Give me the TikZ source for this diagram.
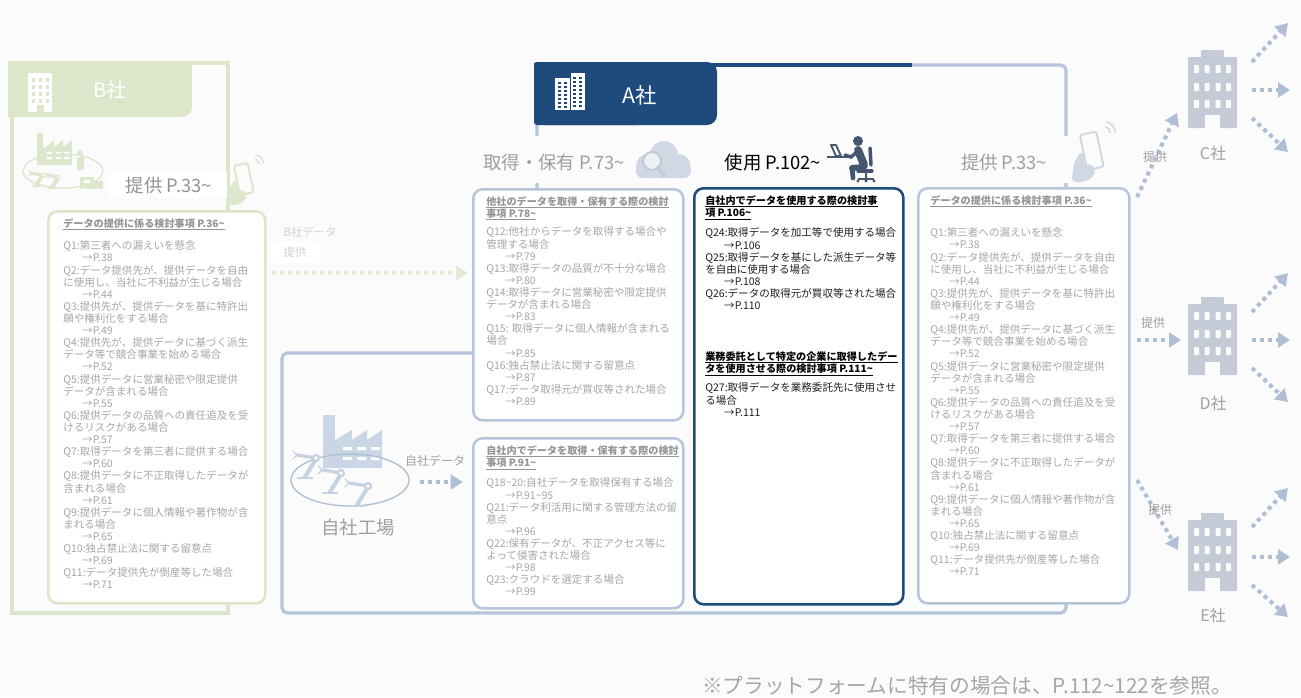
\documentclass[tikz,border=0pt]{standalone}
\usepackage{fontspec}
\setmainfont{Noto Sans CJK JP}
\usetikzlibrary{arrows.meta,shapes.geometric}

\definecolor{pagebg}{HTML}{FBFBFB}
\definecolor{abl}{HTML}{1F4A7C}
\definecolor{lbl}{HTML}{B6C5DA}
\definecolor{gfr}{HTML}{DCE6CA}
\definecolor{ftx}{HTML}{A6A6A6}
\definecolor{fhd}{HTML}{959595}
\definecolor{lbtx}{HTML}{A0A0A0}
\definecolor{bldg}{HTML}{C5CBD6}
\definecolor{arw}{HTML}{AEBED5}
\definecolor{garw}{HTML}{E3ECD6}
\definecolor{icl}{HTML}{D0D8E4}
\definecolor{icd}{HTML}{44556F}
\definecolor{facc}{HTML}{CAD6E6}
\definecolor{gicon}{HTML}{DDE7CD}

\newcommand\pg[1]{\hspace*{1.8em}→P.#1}
\newcommand\tld{\textasciitilde}
\newcommand\ulin[1]{\setbox0=\hbox{#1}\rlap{\rule[-1.6pt]{\wd0}{0.45pt}}\box0}

\newcommand\provlist{%
Q1:第三者への漏えいを懸念\\
\pg{38}\\
Q2:データ提供先が、提供データを自由\\
に使用し、当社に不利益が生じる場合\\
\pg{44}\\
Q3:提供先が、提供データを基に特許出\\
願や権利化をする場合\\
\pg{49}\\
Q4:提供先が、提供データに基づく派生\\
データ等で競合事業を始める場合\\
\pg{52}\\
Q5:提供データに営業秘密や限定提供\\
データが含まれる場合\\
\pg{55}\\
Q6:提供データの品質への責任追及を受\\
けるリスクがある場合\\
\pg{57}\\
Q7:取得データを第三者に提供する場合\\
\pg{60}\\
Q8:提供データに不正取得したデータが\\
含まれる場合\\
\pg{61}\\
Q9:提供データに個人情報や著作物が含\\
まれる場合\\
\pg{65}\\
Q10:独占禁止法に関する留意点\\
\pg{69}\\
Q11:データ提供先が倒産等した場合\\
\pg{71}}

\tikzset{
  bodyfont/.style={font=\fontsize{7.9}{9.08}\selectfont},
  qtxt/.style={anchor=north west, inner sep=0pt, align=left, bodyfont, text=ftx},
  qhead/.style={anchor=north west, inner sep=0pt, align=left, text=fhd,
    font=\fontsize{7.6}{9.08}\selectfont\bfseries},
  utxt/.style={qtxt, text=black!88},
  uhead/.style={qhead, text=black},
  qbox/.style={draw=lbl, line width=1.9pt, rounded corners=7pt, fill=white,
    anchor=north west, inner sep=0pt},
  gqbox/.style={qbox, draw=gfr},
  uqbox/.style={qbox, draw=abl},
  aframe/.style={draw=lbl, line width=2.4pt, rounded corners=4pt},
  gframe/.style={draw=gfr, line width=2.4pt},
  darrow/.style={draw=arw, line width=3pt, dash pattern=on 3pt off 3pt,
    -{Triangle[length=9pt,width=11pt]}},
  garrow/.style={darrow, draw=garw},
  hlabel/.style={inner sep=0pt, text=lbtx, font=\fontsize{13.8}{16}\selectfont},
  smalllab/.style={inner sep=0pt, text=lbtx, font=\fontsize{9}{10}\selectfont},
  complab/.style={inner sep=0pt, text=lbtx, font=\fontsize{12}{14}\selectfont},
  office/.pic={
    \fill[bldg, rounded corners=0.8pt] (-24.5,-71) rectangle (24.5,0);
    \fill[bldg, rounded corners=0.8pt] (-11.5,-78) rectangle (11.5,-69);
    \foreach \cx in {-16,-5.5,5.5,16}{\foreach \ry in {-63,-45,-28}{
      \fill[pagebg, rounded corners=0.6pt] (\cx-2.5,\ry) rectangle (\cx+2.5,\ry+8);}}
    \fill[pagebg] (-7.5,-13) rectangle (7.5,0.6);
  },
  robotarm/.pic={
    \draw[robc, line width=1.6pt, line cap=round] (-7,0) -- (7,0);
    \draw[robc, line width=3pt, line cap=round] (0,-1) -- (11,-19);
    \draw[robc, line width=2.4pt, line cap=round] (11,-20) -- (-8,-23);
    \draw[robc, line width=1pt, line cap=round] (-8,-23) -- (-12,-27) (-8,-23) -- (-12,-19);
    \fill[robc] (11,-20) circle (4.2);
    \fill[white] (11,-20) circle (1.8);
  },
  phonehand/.pic={
    \draw[phc, line width=1.5pt, rounded corners=2pt, rotate=12] (-7,-16) rectangle (7,14);
    \fill[phc, rounded corners=3pt] (-17,25) -- (-15,9) -- (-9,-1) -- (-6,5) -- (-7,12)
      -- (-2,9) -- (3,14) -- (1,21) -- (-6,25) -- cycle;
    \draw[phc, line width=1.2pt] (11,-21) arc[start angle=-80, end angle=0, radius=5];
    \draw[phc, line width=1.2pt] (12,-25) arc[start angle=-80, end angle=0, radius=9];
  }
}

\begin{document}
\begin{tikzpicture}[x=0.75pt,y=-0.75pt]
\useasboundingbox (0,0) rectangle (1301,697);
\fill[pagebg] (0,0) rectangle (1301,697);

% ---------------- company B frame and tab
\draw[gframe] (192,63) -- (228,63) -- (228,613) -- (12,613) -- (12,110);
\fill[gfr, rounded corners=7.5pt] (8,61) rectangle (192,117);
\fill[gfr] (8,61) rectangle (120,117);
\fill[gfr] (8,61) rectangle (192,90);
% building glyph on the B tab
\fill[white] (28,73) rectangle (52,112);
\foreach \cx in {31.5,38.5,45.5}{\foreach \ry in {78,85,92,99}{
  \fill[gfr] (\cx,\ry) rectangle (\cx+3.5,\ry+3.5);}}
\fill[gfr] (36.5,105) rectangle (43.5,112.5);
\node[inner sep=0pt, text=white, font=\fontsize{15}{17}\selectfont] (btab) at (110,90) {B社};

% factory glyph of company B
\begin{scope}
  \fill[gicon] (37,133) rectangle (43,150);
  \fill[gicon] (37,165) -- (37,148) -- (45,148) -- (54,140) -- (54,147) -- (63,140)
     -- (63,147) -- (72,140) -- (72,165) -- cycle;
  \foreach \wx in {47,56,64}{\fill[white] (\wx,152) rectangle (\wx+5,154) (\wx,157) rectangle (\wx+5,159);}
  \draw[gicon, line width=1pt] (63,171) ellipse [x radius=40, y radius=17];
  \colorlet{robc}{gicon}
  \pic[scale=0.55] at (36,186) {robotarm};
  \pic[scale=0.55] at (52,188) {robotarm};
  \fill[gicon] (80,153) circle (3);
  \fill[gicon, rounded corners=1pt] (77,157) rectangle (84,170);
  \fill[gicon] (80,177) rectangle (94,189);
  \fill[gicon] (94,181) rectangle (103,189);
  \fill[white] (84,180) rectangle (90,183);
  \fill[white] (85,190) circle (2) (98,190) circle (2);
\end{scope}

% provision heading of company B
\fill[white] (108,172) rectangle (227,198);
\node[hlabel, text=black!42] (bprov) at (169,186) {提供 P.33\tld};
\colorlet{phc}{gicon}
\pic at (244,180) {phonehand};

% question box of company B
\node[gqbox, minimum width=162.75pt, minimum height=294pt] (bbox) at (47,210) {};
\node[qhead] (bhead) at (63,218.7) {\ulin{データの提供に係る検討事項 P.36\tld}};
\node[qtxt] (bbody) at (63,240.7) {\provlist};

% data handed from company B
\node[inner sep=0pt, text=black!18, font=\fontsize{8.5}{10}\selectfont] (bdl1) at (310,232) {B社データ};
\node[fill=white, inner sep=0pt, minimum width=37.5pt, minimum height=15.75pt,
      text=black!18, font=\fontsize{8.5}{10}\selectfont] (bdl2) at (295,252.5) {提供};
\coordinate (bstart) at (272,273);

% ---------------- company A frame and tab
\draw[aframe] (537,125) -- (537,353) -- (282,353) -- (282,613) -- (1066,613) -- (1066,65) -- (912,65);
\draw[abl, line width=3pt] (534,65) -- (912,65);
\fill[abl, rounded corners=7.5pt] (534,62) rectangle (717,125);
\fill[abl, rounded corners=2pt] (534,62) rectangle (640,125);
% building glyph on the A tab
\fill[white] (555,78) rectangle (570,110);
\fill[white] (570.5,73) rectangle (585,110);
\foreach \ry in {82,86,...,106}{
  \fill[abl] (557.5,\ry) rectangle (560.5,\ry+1.8);
  \fill[abl] (563.5,\ry) rectangle (566.5,\ry+1.8);}
\foreach \ry in {77,81,...,106}{
  \fill[abl] (573,\ry) rectangle (576,\ry+1.8);
  \fill[abl] (579,\ry) rectangle (582,\ry+1.8);}
\node[inner sep=0pt, text=white, font=\fontsize{16}{18}\selectfont] (atab) at (640,95) {A社};

% stage headings
\fill[pagebg] (470,136) rectangle (692,183);
\node[hlabel] (hacq) at (554,163) {取得・保有 P.73\tld};
% cloud with magnifier
\fill[icl] (648,166) circle (12) (664,155) circle (14) (679,165) circle (11);
\fill[icl, rounded corners=5pt] (636,163) rectangle (691,178);
\draw[bldg, line width=1.6pt, fill=pagebg!70!icl] (652,161) circle (9);
\draw[bldg, line width=3pt, line cap=round] (658,168) -- (664,176);

\node[inner sep=0pt, text=black, font=\fontsize{13.8}{16}\selectfont] (huse) at (773,163) {使用 P.102\tld};
% person working at a laptop
\draw[icd, line width=1.8pt] (827,157) -- (850,157);
\draw[icd, line width=1.4pt, line join=round] (831,145) -- (836,145) -- (841,156) -- (836,156) -- cycle;
\fill[icd] (858,141) circle (5);
\draw[icd, line width=6pt, line cap=round] (858,150) -- (864,165);
\draw[icd, line width=2.6pt, line cap=round] (857,152) -- (851,157) -- (845,155);
\draw[icd, line width=4.5pt, line cap=round] (864,167) -- (852,168);
\draw[icd, line width=3.5pt, line cap=round] (852,168) -- (853,178);
\draw[icd, line width=2.6pt, line cap=round] (870,148) -- (871,165);
\draw[icd, line width=2.4pt, line cap=round] (858,171) -- (872,171);
\draw[icd, line width=1.8pt] (866,171) -- (866,178);
\draw[icd, line width=1.6pt] (858,179) -- (874,179);
\fill[icd] (858,181) circle (1.6) (866,181) circle (1.6) (874,181) circle (1.6);

\fill[pagebg] (940,136) rectangle (1120,183);
\node[hlabel] (hprov) at (1004,163) {提供 P.33\tld};
\colorlet{phc}{icl}
\pic[scale=1.2] at (1092,152) {phonehand};

% ---------------- question boxes of company A
\node[qbox, minimum width=157.5pt, minimum height=173.25pt] (tbox) at (472,188) {};
\node[qhead] (thead) at (486,196) {\ulin{他社のデータを取得・保有する際の検討}\\\ulin{事項 P.78\tld}};
\node[qtxt] (tbody) at (486,226.7) {%
Q12:他社からデータを取得する場合や\\
管理する場合\\
\pg{79}\\
Q13:取得データの品質が不十分な場合\\
\pg{80}\\
Q14:取得データに営業秘密や限定提供\\
データが含まれる場合\\
\pg{83}\\
Q15: 取得データに個人情報が含まれる\\
場合\\
\pg{85}\\
Q16:独占禁止法に関する留意点\\
\pg{87}\\
Q17:データ取得元が買収等された場合\\
\pg{89}};

\node[qbox, minimum width=157.5pt, minimum height=127.5pt] (jbox) at (472,437) {};
\node[qhead] (jhead) at (486,445.7) {\ulin{自社内でデータを取得・保有する際の検討}\\\ulin{事項 P.91\tld}};
\node[qtxt] (jbody) at (486,477.7) {%
Q18\tld{}20:自社データを取得保有する場合\\
\pg{91\tld{}95}\\
Q21:データ利活用に関する管理方法の留\\
意点\\
\pg{96}\\
Q22:保有データが、不正アクセス等に\\
よって侵害された場合\\
\pg{98}\\
Q23:クラウドを選定する場合\\
\pg{99}};

\node[uqbox, minimum width=156.75pt, minimum height=312pt] (ubox) at (693,187) {};
\node[uhead] (uhead1) at (705,195.7) {\ulin{自社内でデータを使用する際の検討事}\\\ulin{項 P.106\tld}};
\node[utxt] (ubody1) at (705,227.7) {%
Q24:取得データを加工等で使用する場合\\
\pg{106}\\
Q25:取得データを基にした派生データ等\\
を自由に使用する場合\\
\pg{108}\\
Q26:データの取得元が買収等された場合\\
\pg{110}};
\node[uhead] (uhead2) at (705,351.7) {\ulin{業務委託として特定の企業に取得したデー}\\\ulin{タを使用させる際の検討事項 P.111\tld}};
\node[utxt] (ubody2) at (705,382.7) {%
Q27:取得データを業務委託先に使用させ\\
る場合\\
\pg{111}};

\node[qbox, minimum width=158.25pt, minimum height=311.25pt] (pbox) at (917,187) {};
\node[qhead] (phead) at (930,195.7) {\ulin{データの提供に係る検討事項 P.36\tld}};
\node[qtxt] (pbody) at (930,227.7) {\provlist};

% arrow of data coming from company B
\draw[garrow, shorten >=3pt] (bstart) -- (tbox.west |- bstart);

% ---------------- own factory
\fill[facc] (323,415) rectangle (335,440);
\fill[facc] (323,468) -- (323,436) -- (335,436) -- (335,440) -- (352,430) -- (352,440)
   -- (367,430) -- (367,440) -- (382,430) -- (382,468) -- cycle;
\foreach \wx in {343,357,371}{\fill[white] (\wx,447) rectangle (\wx+9,450) (\wx,457) rectangle (\wx+9,460);}
\node[draw=arw, line width=1pt, ellipse, minimum width=88.5pt, minimum height=39pt,
      inner sep=0pt] (fac) at (350,480) {};
\colorlet{robc}{facc!85!arw}
\pic at (305,478) {robotarm};
\pic at (330,493) {robotarm};
\pic at (357,506) {robotarm};
\node[hlabel] (facl) at (358,528) {自社工場};
\node[smalllab] (ownl) at (435,461) {自社データ};
\coordinate (ostart) at (420,482);
\draw[darrow, shorten >=7pt] (ostart) -- (jbox.west |- ostart);

% ---------------- companies C, D and E
\pic at (1212.5,128) {office};
\pic at (1212.5,375) {office};
\pic at (1212.5,591) {office};
\node[complab] (clab) at (1213,153) {C社};
\node[complab] (dlab) at (1213,403) {D社};
\node[complab] (elab) at (1213,615) {E社};

\coordinate (cin0) at (1137,197);  \coordinate (cin1) at (1177,113);
\coordinate (din0) at (1137,340);  \coordinate (din1) at (1181,340);
\coordinate (ein0) at (1137,480);  \coordinate (ein1) at (1178,550);
\draw[darrow] (cin0) -- (cin1);
\draw[darrow] (din0) -- (din1);
\draw[darrow] (ein0) -- (ein1);
\node[smalllab, text=black!38] (cprov) at (1155,157) {提供};
\node[smalllab, text=black!38] (dprov) at (1153,323) {提供};
\node[smalllab, text=black!38] (eprov) at (1160,510) {提供};

\foreach \n/\ya/\yb/\yc in {c/62/90/118, d/312/340/368, e/527/557/585}{
  \coordinate (\n o1a) at (1252,\ya);
  \coordinate (\n o2a) at (1252,\yb);
  \coordinate (\n o3a) at (1252,\yc);
}
\coordinate (co1b) at (1288,23);  \coordinate (co2b) at (1290,90);  \coordinate (co3b) at (1288,152);
\coordinate (do1b) at (1288,273); \coordinate (do2b) at (1290,340); \coordinate (do3b) at (1288,402);
\coordinate (eo1b) at (1288,488); \coordinate (eo2b) at (1290,557); \coordinate (eo3b) at (1288,617);
\foreach \n in {c,d,e}{
  \draw[darrow] (\n o1a) -- (\n o1b);
  \draw[darrow] (\n o2a) -- (\n o2b);
  \draw[darrow] (\n o3a) -- (\n o3b);
}

% ---------------- footnote
\node[inner sep=0pt, text=ftx, font=\fontsize{15.5}{17}\selectfont] (note) at (967,686)
  {※プラットフォームに特有の場合は、P.112\tld{}122を参照。};
\end{tikzpicture}
\end{document}
